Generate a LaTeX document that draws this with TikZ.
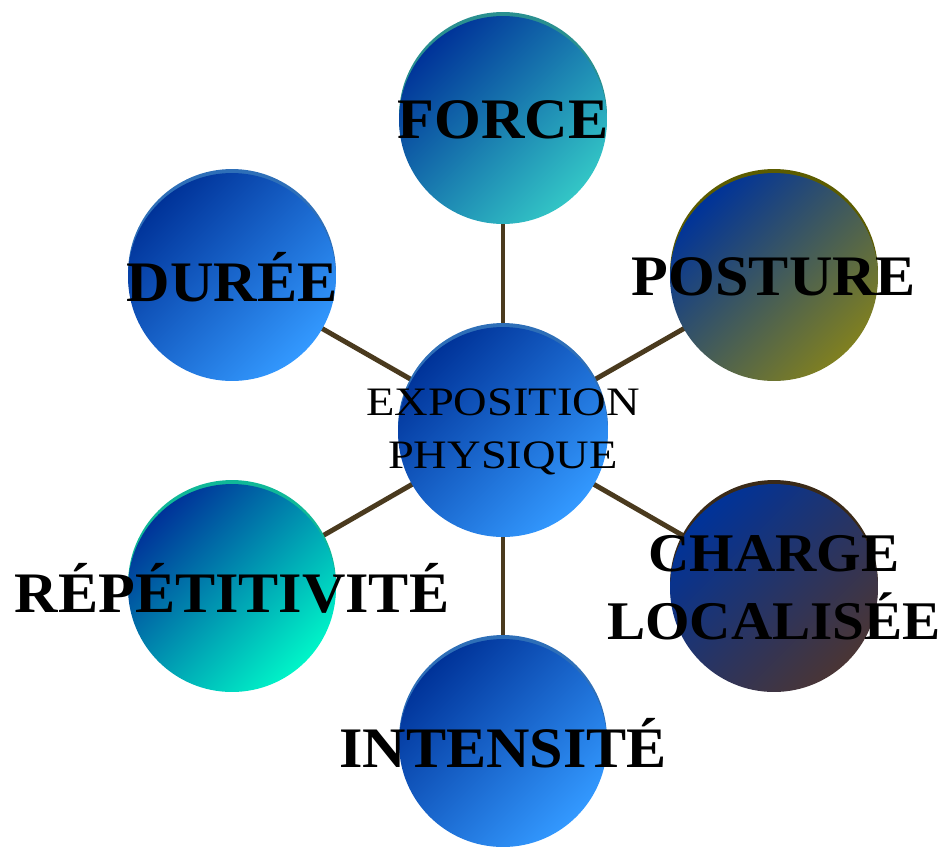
\documentclass[tikz,border=0pt]{standalone}
\usepackage{fontspec}
\setmainfont{Liberation Serif}[FakeStretch=1.05]
\newfontfamily\centrefont{Liberation Serif}[FakeStretch=1.15]
\usetikzlibrary{shadows}

\definecolor{dkblue}{HTML}{003399}
\definecolor{spokebrown}{HTML}{4A3A1E}
\definecolor{skyblue}{HTML}{3399FF}
\definecolor{skyrim}{HTML}{2E6FB8}
\definecolor{turq}{HTML}{33C6C6}
\definecolor{turqrim}{HTML}{2A9090}
\definecolor{olive}{HTML}{808020}
\definecolor{oliverim}{HTML}{5C5C00}
\definecolor{maroon}{HTML}{4A3535}
\definecolor{maroonrim}{HTML}{3A2A18}
\definecolor{aqua}{HTML}{00F5C8}
\definecolor{aquarim}{HTML}{10B898}

\begin{document}
\begin{tikzpicture}[x=0.02cm,y=-0.02cm,
  bubble/.style 2 args={circle,minimum size=4.16cm,inner sep=0pt,
    top color=dkblue,bottom color=#1,shading angle=45,
    general shadow={fill=#2,shadow xshift=0cm,shadow yshift=0.08cm}},
  lbl/.style={font=\bfseries\fontsize{32.6}{40}\selectfont,align=center,inner sep=0pt},
  spoke/.style={draw=spokebrown,line width=2.8pt}]
  \useasboundingbox (0,0) rectangle (943,846);
  % spokes first, behind the bubbles
  \coordinate (c) at (503,432);
  \coordinate (f) at (503,120);
  \coordinate (d) at (232,277);
  \coordinate (p) at (774,277);
  \coordinate (r) at (232,588);
  \coordinate (l) at (774,588);
  \coordinate (i) at (503,743);
  \foreach \n in {f,d,p,r,l,i} \draw[spoke] (c) -- (\n);
  % bubbles
  \node (force) [bubble={turq}{turqrim},label={[lbl]center:FORCE}] at (f) {};
  \node (duree) [bubble={skyblue}{skyrim},label={[lbl]center:DURÉE}] at (d) {};
  \node (posture) [bubble={olive}{oliverim},label={[lbl]center:POSTURE}] at (p) {};
  \node (repet) [bubble={aqua}{aquarim},label={[lbl]center:RÉPÉTITIVITÉ}] at (r) {};
  \node (charge) [bubble={maroon}{maroonrim},
    label={[lbl,font=\bfseries\fontsize{31}{38.5}\selectfont]center:CHARGE\\LOCALISÉE}] at (l) {};
  \node (intens) [bubble={skyblue}{skyrim},label={[lbl]center:INTENSITÉ}] at (i) {};
  \node (expo) [bubble={skyblue}{skyrim},minimum size=4.2cm,
    label={[align=center,inner sep=0pt,font=\centrefont\fontsize{23}{30}\selectfont]center:EXPOSITION\\PHYSIQUE}] at (c) {};
\end{tikzpicture}
\end{document}
